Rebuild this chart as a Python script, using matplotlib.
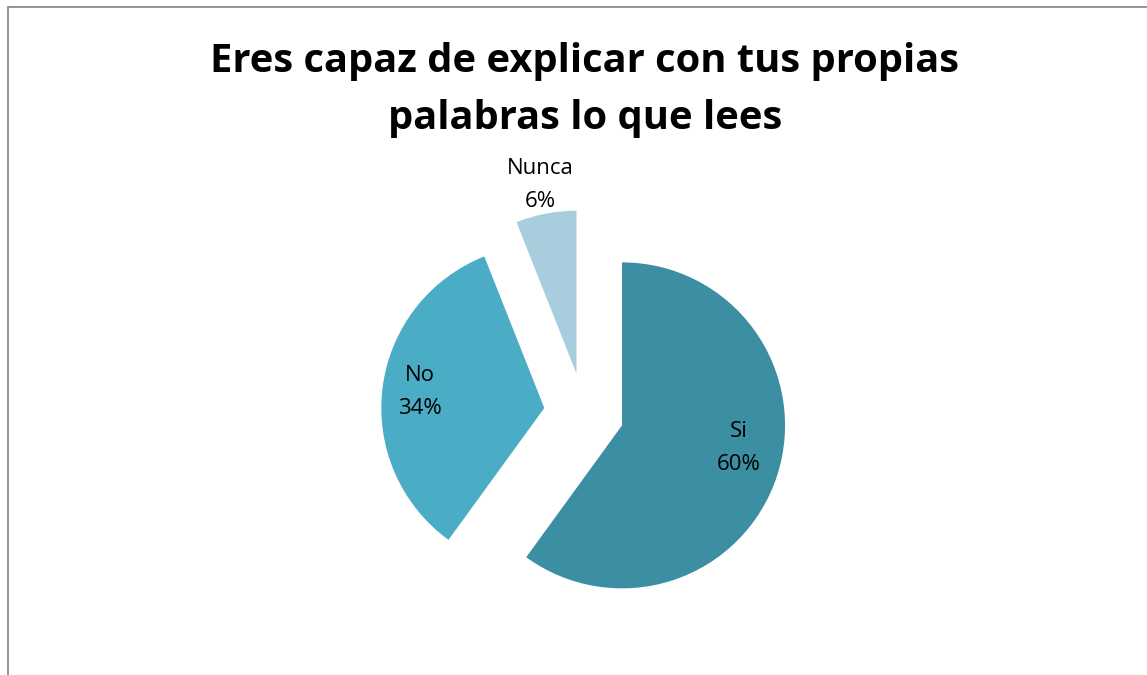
import numpy as np
import matplotlib
matplotlib.use("Agg")
import matplotlib.pyplot as plt
from matplotlib.patches import Rectangle

title = "Eres capaz de explicar con tus propias\npalabras lo que lees"
categories = ["Si", "No", "Nunca"]
percents = [60, 34, 6]
colors = ["#3C8EA3", "#4BACC6", "#A8CEDD"]

W, H = 1147, 675
fig = plt.figure(figsize=(W / 100, H / 100), dpi=100)
ax = fig.add_axes([0, 0, 1, 1])

# chart frame (runs off the right/bottom edges like the original)
fig.patches.append(Rectangle((8 / W, -0.1), 1.2, 1.1 - 7 / H, transform=fig.transFigure,
                             fill=False, edgecolor="#8C8C8C", linewidth=1.3))

center = (584, H - 413)
radius = 163
expl = 40  # pie explode is in data units here
wedges, _ = ax.pie(percents, colors=colors, startangle=90, counterclock=False,
                   explode=[expl] * 3, center=center, radius=radius, frame=True,
                   wedgeprops=dict(linewidth=0))
ax.set_xlim(0, W)
ax.set_ylim(0, H)
ax.set_aspect("equal")
ax.axis("off")

# label placement: fraction of radius from each wedge's own vertex, plus angle nudge
label_dist = [0.73, 0.77, 1.18]
label_turn = [7, 0, 0]
for w, cat, p, d, t in zip(wedges, categories, percents, label_dist, label_turn):
    mid = np.deg2rad((w.theta1 + w.theta2) / 2 + t)
    cx, cy = w.center
    ax.text(cx + d * radius * np.cos(mid), cy + d * radius * np.sin(mid),
            f"{cat}\n{p}%", ha="center", va="center", fontsize=16,
            family="Open Sans", linespacing=1.75, color="black")

fig.text(585 / W, 1 - 90 / H, title, ha="center", va="center", fontsize=28.7,
         fontweight="bold", family="Open Sans", linespacing=1.62)

fig.savefig("out.png", dpi=100, facecolor="white")
